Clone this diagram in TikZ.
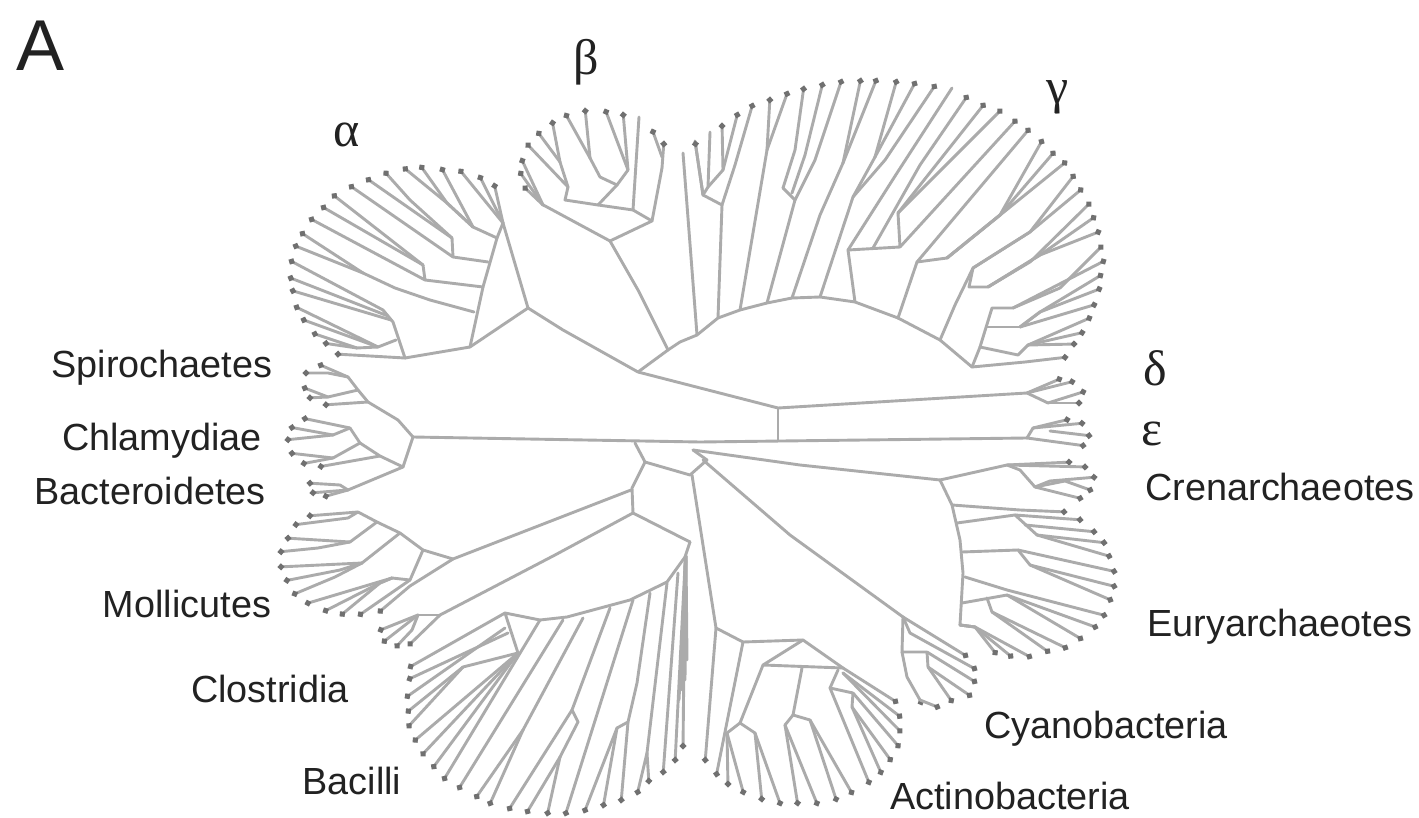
\documentclass[tikz,border=0pt]{standalone}
\usepackage{fontspec}
\setmainfont{Liberation Sans}
\newfontfamily\grk{Liberation Serif}
\usetikzlibrary{arrows.meta}
\definecolor{brc}{HTML}{ABABAB}
\definecolor{tipc}{HTML}{707070}
\definecolor{txt}{HTML}{222222}
\tikzset{
  br/.style={draw=brc,line width=2.9pt,line cap=round,line join=round},
  tp/.style={-{Circle[length=6pt,width=6pt,color=tipc]}},
  lab/.style={anchor=base,text=txt,inner sep=0pt,font=\fontsize{37.8}{40}\selectfont},
  gl/.style={anchor=base,text=txt,inner sep=0pt,font=\grk\fontsize{50}{54}\selectfont}
}
\newcommand\lv[2]{\foreach \p in {#2}{\draw[br,tp] #1 -- \p;}}
\newcommand\lnn[2]{\foreach \p in {#2}{\draw[br] #1 -- \p;}}
\begin{document}
\begin{tikzpicture}[x=1pt,y=-1pt]
\useasboundingbox (0,0) rectangle (1419,818);
\fill[white] (0,0) rectangle (1419,818);
% backbone
\draw[br] (413,437) -- (700,442) -- (1027,438);
\draw[br] (528,308) -- (563,330) -- (638,372) -- (778,408) -- (1027,393);
\draw[br] (778,408) -- (778,440);
\draw[br] (413,437) -- (398,420);
\draw[br] (413,437) -- (403,467);
% alpha
\draw[br] (528,308) -- (470,347) -- (405,358);
\draw[br] (528,308) -- (503,223);
\draw[br] (470,347) -- (483,287) -- (497,238) -- (503,223);
\lv{(503,223)}{(494,183),(479,175),(459,169)}
\draw[br] (497,238) -- (473,227);
\lv{(473,227) -- (447,203)}{(420,165),(403,167)}
\lv{(473,227)}{(441,167)}
\draw[br] (488,262) -- (453,257) -- (452,238);
\lv{(452,238) -- (410,200)}{(384,171)}
\lv{(452,238)}{(366,178)}
\lv{(453,257)}{(349,185)}
\draw[br] (483,287) -- (425,280) -- (423,265);
\lv{(423,265)}{(332,194),(321,206)}
\lv{(425,280)}{(309,218)}
\draw[br] (474,312) -- (430,300) -- (395,288) -- (363,273);
\lv{(363,273)}{(300,232),(293,245)}
\draw[br] (405,358) -- (393,322) -- (383,310);
\lv{(383,310)}{(289,260)}
\lv{(388,316)}{(288,277)}
\lv{(391,320)}{(290,290)}
\draw[br] (396,340) -- (378,347) -- (357,348);
\lv{(378,347)}{(294,306),(301,319)}
\lv{(357,348)}{(312,333),(323,343)}
\lv{(405,358)}{(335,354)}
% beta
\draw[br] (638,372) -- (668,350) -- (638,290) -- (610,241);
\draw[br] (610,241) -- (547,207) -- (543,205);
\lv{(543,205)}{(521,158),(519,171),(523,186)}
\draw[br] (610,241) -- (652,221) -- (662,168);
\lv{(662,168)}{(664,141)}
\lv{(662,157)}{(652,129)}
\draw[br] (652,221) -- (633,210) -- (598,205) -- (565,200) -- (568,187) -- (560,162);
\draw[br] (633,210) -- (639,117);
\lv{(568,187)}{(526,143)}
\lv{(560,162)}{(537,131),(552,120)}
\draw[br] (598,205) -- (617,185) -- (628,170);
\lv{(628,170)}{(623,112),(605,109)}
\draw[br] (617,185) -- (600,177) -- (590,158);
\lv{(590,158)}{(585,108),(565,113)}
% gamma arch
\draw[br] (668,350) -- (680,342) -- (697,335) -- (718,318) -- (740,310) -- (767,303) -- (792,298) -- (820,297) -- (855,302) -- (898,318) -- (940,340) -- (972,367);
\draw[br] (697,335) -- (683,153);
\draw[br] (718,318) -- (722,205);
\draw[br] (722,205) -- (703,195) -- (695,141);
\lv{(722,205) -- (735,165)}{(753,103)}
\lv{(703,195)}{(695,141)}
\draw[br] (703,195) -- (708,187) -- (710,132);
\draw[br] (708,187) -- (723,170);
\lv{(723,170)}{(722,123),(738,112)}
\draw[br] (740,310) -- (767,150);
\lv{(767,150)}{(770,97),(788,91)}
\draw[br] (767,303) -- (795,200) -- (783,188);
\lv{(783,188) -- (795,150)}{(804,86)}
\lv{(792,193) -- (805,155)}{(823,82)}
\lv{(795,200) -- (815,160)}{(842,79)}
\draw[br] (792,298) -- (820,215) -- (843,163);
\lv{(843,163)}{(861,78),(877,78)}
\draw[br] (820,297) -- (853,197) -- (875,157);
\lv{(875,157)}{(897,79),(916,81)}
\lv{(853,197) -- (885,160)}{(936,84)}
\draw[br] (855,302) -- (848,250) -- (900,247) -- (898,213);
\draw[br] (848,250) -- (897,173) -- (952,88);
\lv{(873,248) -- (920,165)}{(968,95)}
\lv{(898,213)}{(985,103),(1002,109)}
\lv{(900,247)}{(1017,119)}
\draw[br] (898,318) -- (917,262) -- (947,258);
\lv{(917,262)}{(1030,128)}
\lv{(947,258) -- (1000,215)}{(1043,139),(1055,151)}
\lv{(947,258)}{(1067,161)}
\draw[br] (940,340) -- (955,305) -- (973,268);
\lv{(973,268) -- (1030,232)}{(1075,174),(1083,188)}
\draw[br] (973,268) -- (969,287) -- (988,287);
\lv{(988,287) -- (1030,262)}{(1091,202)}
\lv{(988,287) -- (1040,255)}{(1096,216),(1101,231)}
\draw[br] (972,367) -- (980,347) -- (992,308) -- (1013,308);
\lv{(1013,308) -- (1060,288)}{(1103,245)}
\lv{(1013,308)}{(1106,260)}
\draw[br] (987,327) -- (1020,327);
\lv{(1020,327) -- (1040,312)}{(1103,274),(1102,288)}
\lv{(1020,327)}{(1097,304)}
\draw[br] (980,347) -- (1018,355) -- (1028,345);
\lv{(1028,345)}{(1092,317),(1085,332),(1077,344)}
\lv{(972,367) -- (1025,362)}{(1068,357)}
% delta
\lv{(1027,393)}{(1062,378),(1075,381)}
\draw[br] (1027,393) -- (1048,403);
\lv{(1048,403)}{(1086,391),(1082,403)}
% epsilon
\draw[br] (1027,438) -- (1033,428);
\lv{(1033,428)}{(1070,419),(1085,423)}
\lv{(1050,431)}{(1092,436)}
\lv{(1027,438)}{(1086,446)}
% central
\draw[br] (635,443) -- (645,462) -- (690,475) -- (707,460) -- (693,450);
\draw[br] (645,462) -- (632,488) -- (633,513);
\draw[br] (631,490) -- (453,559);
\draw[br] (633,513) -- (555,555) -- (440,615);
\draw[br] (633,513) -- (690,542);
% crenarchaeotes
\draw[br] (693,450) -- (800,465) -- (940,480);
\lv{(940,480) -- (1007,465)}{(1072,462)}
\lv{(1007,465)}{(1088,467)}
\draw[br] (1007,465) -- (1020,470) -- (1035,487);
\lv{(1035,487) -- (1050,481)}{(1097,477)}
\lv{(1035,487) -- (1065,481)}{(1093,491)}
\lv{(1035,487)}{(1083,499)}
% euryarchaeotes
\draw[br] (940,480) -- (952,505) -- (960,540) -- (963,573) -- (960,625);
\lv{(952,505) -- (1020,510)}{(1067,512)}
\draw[br] (957,523) -- (1015,515) -- (1037,535);
\lv{(1015,515)}{(1083,520)}
\lv{(1025,525)}{(1097,532)}
\lv{(1037,535)}{(1107,543),(1112,557)}
\draw[br] (962,552) -- (1018,550) -- (1030,565);
\lv{(1018,550)}{(1117,572)}
\lv{(1030,565)}{(1117,587),(1113,601)}
\lv{(965,577) -- (1007,590)}{(1107,616)}
\draw[br] (962,603) -- (1007,595);
\lv{(1007,595)}{(1098,628),(1083,640)}
\draw[br] (987,598) -- (992,612);
\lv{(992,612)}{(1068,649),(1050,653)}
\lv{(960,625) -- (975,627)}{(997,655),(1013,658),(1032,658)}
% cyanobacteria
\draw[br] (703,460) -- (790,535) -- (903,617);
\lv{(903,617)}{(968,657)}
\lv{(903,617) -- (910,633)}{(977,670)}
\draw[br] (903,617) -- (902,652) -- (927,652) -- (928,667);
\lv{(927,652)}{(977,683)}
\lv{(928,667)}{(972,697),(953,703)}
\draw[br] (902,652) -- (907,677) -- (920,700);
\lv{(920,700)}{(922,705),(940,708)}
% actinobacteria
\draw[br] (692,475) -- (716,628);
\lv{(716,628)}{(705,763)}
\draw[br] (716,628) -- (743,642) -- (803,640) -- (843,668);
\lv{(743,642)}{(716,777)}
\lv{(843,668)}{(898,703)}
\draw[br] (803,640) -- (763,665) -- (843,668);
\draw[br] (763,665) -- (740,723);
\draw[br] (740,723) -- (727,733);
\lv{(727,733)}{(728,787),(744,795)}
\draw[br] (740,723) -- (755,733);
\lv{(755,733)}{(762,802),(781,806)}
\draw[br] (802,668) -- (793,715);
\draw[br] (793,715) -- (785,725);
\lv{(785,725)}{(798,806),(818,806)}
\draw[br] (793,715) -- (810,720);
\lv{(810,720)}{(837,802),(853,795)}
\draw[br] (838,670) -- (830,688);
\lv{(830,688)}{(870,785)}
\draw[br] (830,688) -- (853,693) -- (852,707);
\lv{(852,707)}{(882,775),(892,762)}
\lv{(853,693)}{(900,748)}
\lv{(843,673)}{(902,733),(902,718)}
% spirochaetes
\draw[br] (398,420) -- (368,402) -- (358,390) -- (348,377);
\lv{(348,377)}{(318,364)}
\lv{(348,377) -- (328,373)}{(303,373)}
\draw[br] (358,390) -- (328,397);
\lv{(328,397)}{(302,387),(307,398)}
\lv{(368,402)}{(323,405)}
% chlamydiae
\draw[br] (403,467) -- (380,456) -- (360,443) -- (350,428);
\lv{(350,428)}{(302,418)}
\draw[br] (350,428) -- (333,435);
\lv{(333,435)}{(289,427),(285,440)}
\draw[br] (360,443) -- (333,458);
\lv{(333,458)}{(289,453),(301,464)}
\lv{(380,456)}{(318,467)}
% bacteroidetes
\draw[br] (403,467) -- (348,490);
\lv{(348,490) -- (340,485)}{(307,483)}
\lv{(348,490)}{(310,493),(323,497)}
% mollicutes
\draw[br] (453,559) -- (423,550) -- (400,533) -- (377,522) -- (358,512);
\lv{(358,512)}{(307,516)}
\lv{(358,512) -- (348,518)}{(293,525)}
\draw[br] (377,522) -- (350,542);
\lv{(350,542)}{(285,538)}
\lv{(350,542) -- (318,548)}{(278,552)}
\draw[br] (400,533) -- (362,563);
\lv{(362,563)}{(278,567)}
\lv{(362,563) -- (340,570)}{(284,581)}
\lv{(362,563) -- (335,577)}{(292,595)}
\draw[br] (423,550) -- (410,580) -- (392,578);
\lv{(392,578)}{(305,604)}
\lv{(392,578) -- (380,583)}{(323,612),(340,616)}
\lv{(410,580)}{(358,616)}
\lv{(453,559) -- (410,586)}{(378,613)}
% clostridia
\draw[br] (440,615) -- (418,615);
\lv{(418,615)}{(378,631),(382,643)}
\lv{(418,615) -- (412,630)}{(395,648)}
\lv{(440,615)}{(408,646)}
% arch to bacilli
\draw[br] (690,542) -- (685,557) -- (667,582) -- (630,600) -- (567,617) -- (540,620) -- (505,613) -- (518,653);
\lv{(505,613)}{(408,668)}
\lv{(508,633)}{(407,680)}
\lv{(505,628)}{(405,698)}
\draw[br] (518,653) -- (463,667);
\lv{(463,667)}{(406,713),(407,728)}
\lv{(518,653)}{(413,742),(421,756),(432,769)}
\lv{(540,620)}{(443,781)}
\lv{(563,620)}{(458,790)}
\draw[br] (583,618) -- (523,730);
\lv{(523,730)}{(475,799),(489,806)}
\draw[br] (610,608) -- (572,710) -- (578,722) -- (560,757);
\lv{(572,710)}{(508,811)}
\lv{(560,757)}{(526,814),(547,816)}
\lv{(633,600)}{(565,816)}
\draw[br] (650,593) -- (637,683) -- (628,722) -- (617,728);
\lv{(617,728)}{(584,813),(603,808)}
\lv{(628,722)}{(621,803)}
\draw[br] (667,583) -- (647,753);
\lv{(647,753)}{(637,795),(649,784)}
\lv{(678,573)}{(663,775)}
\lv{(685,565)}{(675,763)}
\lv{(685,557)}{(683,749)}
\lnn{(686,556)}{(679,700),(682,690),(685,680),(687,660)}
% labels
\node[anchor=base,text=txt,inner sep=0pt,font=\fontsize{72}{76}\selectfont] (panel) at (41,71) {A};
\node[gl] (alpha) at (347,147) {α};
\node[gl] (beta) at (586,75) {β};
\node[gl] (gamma) at (1058,104) {γ};
\node[gl] (delta) at (1155,385) {δ};
\node[gl] (eps) at (1152,445) {ε};
\node[lab] (spi) at (162,377) {Spirochaetes};
\node[lab] (chl) at (162,450) {Chlamydiae};
\node[lab] (bac) at (150,504) {Bacteroidetes};
\node[lab] (mol) at (187,617) {Mollicutes};
\node[lab] (clo) at (270,702) {Clostridia};
\node[lab] (bci) at (352,794) {Bacilli};
\node[lab] (act) at (1010,809) {Actinobacteria};
\node[lab] (cya) at (1106,738) {Cyanobacteria};
\node[lab] (eur) at (1280,636) {Euryarchaeotes};
\node[lab] (cre) at (1280,500) {Crenarchaeotes};
\end{tikzpicture}
\end{document}
